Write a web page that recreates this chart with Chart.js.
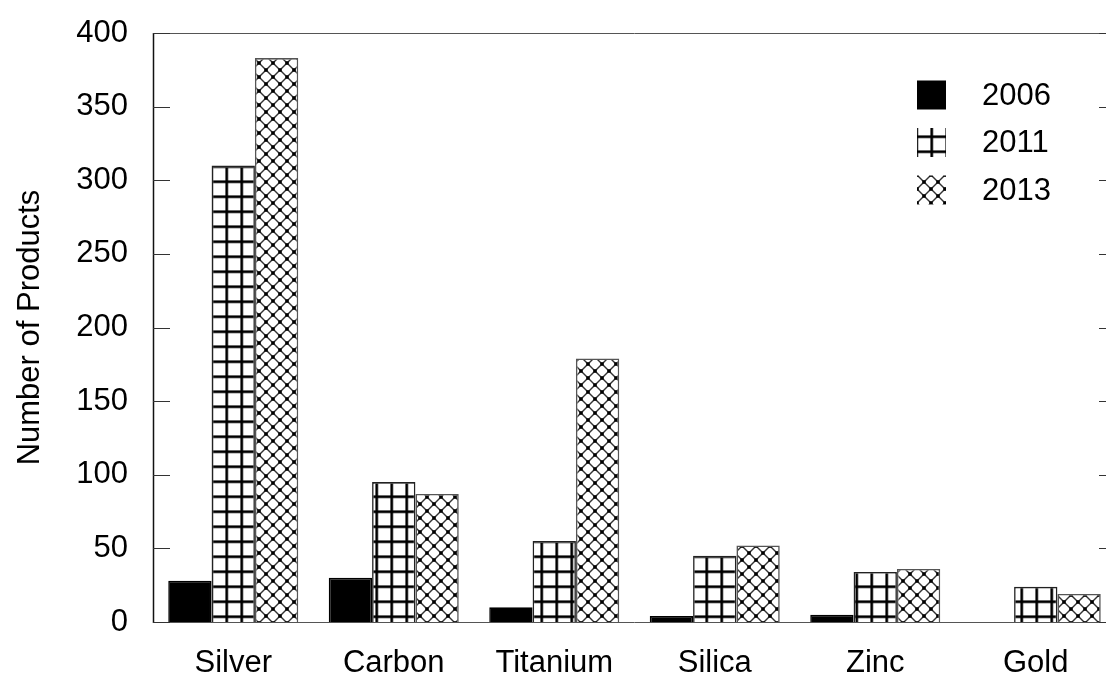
<!DOCTYPE html>
<html>
<head>
<meta charset="utf-8">
<script src="https://cdn.jsdelivr.net/npm/chart.js@4.4.1/dist/chart.umd.min.js"></script>
<style>
  html, body { margin: 0; padding: 0; background: #fff; overflow: hidden; }
  #wrap { width: 1126px; height: 673px; position: relative; }
</style>
</head>
<body>
<div id="wrap"><canvas id="c"></canvas></div>
<script>
// Nanomaterial categories and product counts per survey year
const materials = ['Silver', 'Carbon', 'Titanium', 'Silica', 'Zinc', 'Gold'];
const years = ['2006', '2011', '2013'];
const counts2006 = [28, 30, 10, 4, 5, 0];
const counts2011 = [310, 95, 55, 45, 34, 24];
const counts2013 = [383, 87, 179, 52, 36, 19];
const yTicks = [0, 50, 100, 150, 200, 250, 300, 350, 400];

const FONT = '"Liberation Sans", Arial, sans-serif';
Chart.defaults.font.family = FONT;
Chart.defaults.color = '#000';

// Square-grid hatch fill
function gridPattern() {
  const s = 15;
  const t = document.createElement('canvas');
  t.width = s; t.height = s;
  const g = t.getContext('2d');
  g.fillStyle = '#fff'; g.fillRect(0, 0, s, s);
  g.fillStyle = 'rgba(0,0,0,0.45)';
  g.fillRect(0, 0, 3.5, s); g.fillRect(0, 0, s, 3.5);
  g.fillStyle = '#000';
  g.fillRect(0.75, 0, 2, s); g.fillRect(0, 0.75, s, 2);
  return g.createPattern(t, 'repeat');
}

// Diagonal cross-hatch fill with dots at crossings
function crossPattern() {
  const s = 14;
  const t = document.createElement('canvas');
  t.width = s; t.height = s;
  const g = t.getContext('2d');
  g.fillStyle = '#fff'; g.fillRect(0, 0, s, s);
  g.strokeStyle = '#333'; g.lineWidth = 1.4;
  for (const o of [-s, 0, s]) {
    g.beginPath(); g.moveTo(o, 0); g.lineTo(o + s, s); g.stroke();
    g.beginPath(); g.moveTo(o + s, 0); g.lineTo(o, s); g.stroke();
  }
  g.fillStyle = '#000';
  for (const [cx, cy] of [[0, 0], [s, 0], [0, s], [s, s], [s / 2, s / 2]]) {
    g.fillRect(cx - 1.75, cy - 1.75, 3.5, 3.5);
  }
  return g.createPattern(t, 'repeat');
}

const ctx = document.getElementById('c').getContext('2d');
const fills = ['#000', gridPattern(), crossPattern()];
const borders = ['#000', '#222', '#555'];
const seriesValues = [counts2006, counts2011, counts2013];

// Box frame with inward ticks on both vertical sides
const framePlugin = {
  id: 'frame',
  beforeDatasetsDraw(chart) {
    const { ctx, chartArea: a, scales: { y } } = chart;
    ctx.save();
    ctx.lineWidth = 1;
    ctx.strokeStyle = '#555';
    ctx.beginPath();
    ctx.moveTo(a.left, a.top + 0.5); ctx.lineTo(a.right, a.top + 0.5);
    ctx.moveTo(a.left, a.bottom + 0.5); ctx.lineTo(a.right, a.bottom + 0.5);
    ctx.moveTo(a.right - 0.5, a.top); ctx.lineTo(a.right - 0.5, a.bottom);
    ctx.stroke();
    ctx.strokeStyle = '#111';
    ctx.lineWidth = 1.5;
    ctx.beginPath();
    ctx.moveTo(a.left + 0.5, a.top); ctx.lineTo(a.left + 0.5, a.bottom + 1);
    ctx.stroke();
    ctx.lineWidth = 1;
    ctx.strokeStyle = '#333';
    ctx.beginPath();
    for (const v of yTicks) {
      const py = Math.round(y.getPixelForValue(v)) + 0.5;
      ctx.moveTo(a.left, py); ctx.lineTo(a.left + 17, py);
      ctx.moveTo(a.right - 17, py); ctx.lineTo(a.right, py);
    }
    ctx.stroke();
    ctx.restore();
  }
};

// Legend drawn inside the plot, upper right
const legendPlugin = {
  id: 'insideLegend',
  afterDraw(chart) {
    const { ctx } = chart;
    ctx.save();
    ctx.font = '31px ' + FONT;
    ctx.textBaseline = 'middle';
    ctx.textAlign = 'left';
    chart.data.datasets.forEach((ds, i) => {
      const cy = 95 + i * 47.5;
      ctx.fillStyle = ds.backgroundColor;
      ctx.fillRect(917, cy - 14.5, 29, 29);
      ctx.fillStyle = '#000';
      ctx.fillText(ds.label, 982, cy + 1);
    });
    ctx.restore();
  }
};

new Chart(ctx, {
  type: 'bar',
  data: {
    labels: materials,
    datasets: years.map((yr, i) => ({
      label: yr,
      data: seriesValues[i],
      backgroundColor: fills[i],
      borderColor: borders[i],
      borderWidth: 1.6,
      categoryPercentage: 0.81,
      barPercentage: 1.0
    }))
  },
  options: {
    responsive: true,
    maintainAspectRatio: false,
    animation: false,
    devicePixelRatio: 1,
    layout: { padding: { top: 33, right: 10, left: 0, bottom: 0 } },
    plugins: { legend: { display: false }, tooltip: { enabled: false } },
    scales: {
      x: {
        grid: { display: false, drawTicks: false },
        border: { display: false },
        ticks: { font: { size: 31 }, padding: 23, color: '#000' },
        afterFit(scale) { scale.height = 51; }
      },
      y: {
        min: 0, max: 400,
        afterBuildTicks(scale) { scale.ticks = yTicks.map(v => ({ value: v })); },
        grid: { display: false, drawTicks: false },
        border: { display: false },
        ticks: { font: { size: 31 }, padding: 25, color: '#000' },
        title: { display: true, text: 'Number of Products', font: { size: 31 }, color: '#000', padding: { top: 12, bottom: 0 } },
        afterFit(scale) { scale.width = 153; scale.paddingTop = 0; scale.paddingBottom = 0; }
      }
    }
  },
  plugins: [framePlugin, legendPlugin]
});
</script>
</body>
</html>
